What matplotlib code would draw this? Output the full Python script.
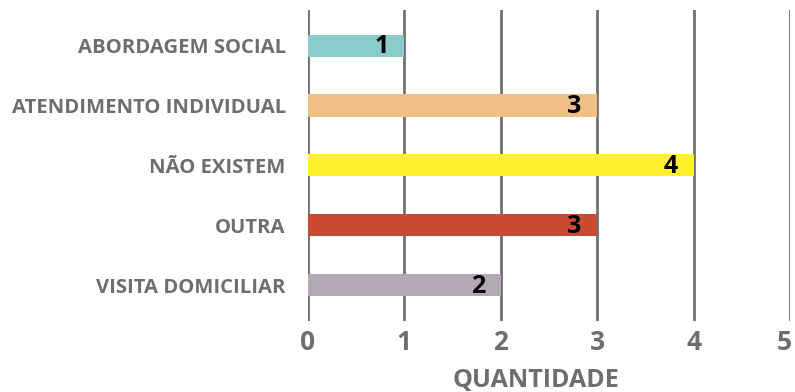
import matplotlib
matplotlib.use('Agg')
import matplotlib.pyplot as plt
from matplotlib.transforms import ScaledTranslation

# categories and counts, top to bottom
categories = ['ABORDAGEM SOCIAL', 'ATENDIMENTO INDIVIDUAL', 'NÃO EXISTEM', 'OUTRA', 'VISITA DOMICILIAR']
values = [1, 3, 4, 3, 2]
colors = ['#8ACCCA', '#F0BF85', '#FFF22C', '#C94B33', '#B4A8B4']
x_ticks = [0, 1, 2, 3, 4, 5]

gray = '#6D6E71'
plt.rcParams['font.family'] = ['Open Sans', 'DejaVu Sans']

fig = plt.figure(figsize=(7.95, 3.92), dpi=100)
ax = fig.add_axes([0.3874, 0.181, 0.6063, 0.794])

ypos = list(range(len(categories)))
ax.barh(ypos, values, height=0.37, color=colors, zorder=3)

for y, v in zip(ypos, values):
    ax.text(v - 0.16, y + 0.02, str(v), ha='right', va='center',
            fontsize=18, fontweight='bold', color='black', zorder=4)

ax.set_xlim(0, 5)
ax.set_ylim(4.6, -0.6)
ax.set_xticks(x_ticks)
ax.set_yticks(ypos)
ax.set_yticklabels(categories, fontsize=14.6)
for v in x_ticks:
    ax.axvline(v, color='#707070', lw=2, zorder=1)

for s in ax.spines.values():
    s.set_visible(False)
ax.tick_params(length=0)
ax.tick_params(axis='y', pad=16, labelcolor=gray)
ax.tick_params(axis='x', pad=6, labelsize=19, labelcolor=gray)
for lab in ax.get_xticklabels() + ax.get_yticklabels():
    lab.set_fontweight('bold')

# last tick label sits against the right edge, nudge it in
last = ax.get_xticklabels()[-1]
last.set_transform(last.get_transform() + ScaledTranslation(-6 / 100, 0, fig.dpi_scale_trans))

ax.set_xlabel('QUANTIDADE', fontsize=18, fontweight='bold', color=gray)
ax.xaxis.set_label_coords(0.473, -0.15)
ax.xaxis.label.set_va('top')

fig.set_facecolor('white')
fig.savefig('out.png', dpi=100)
